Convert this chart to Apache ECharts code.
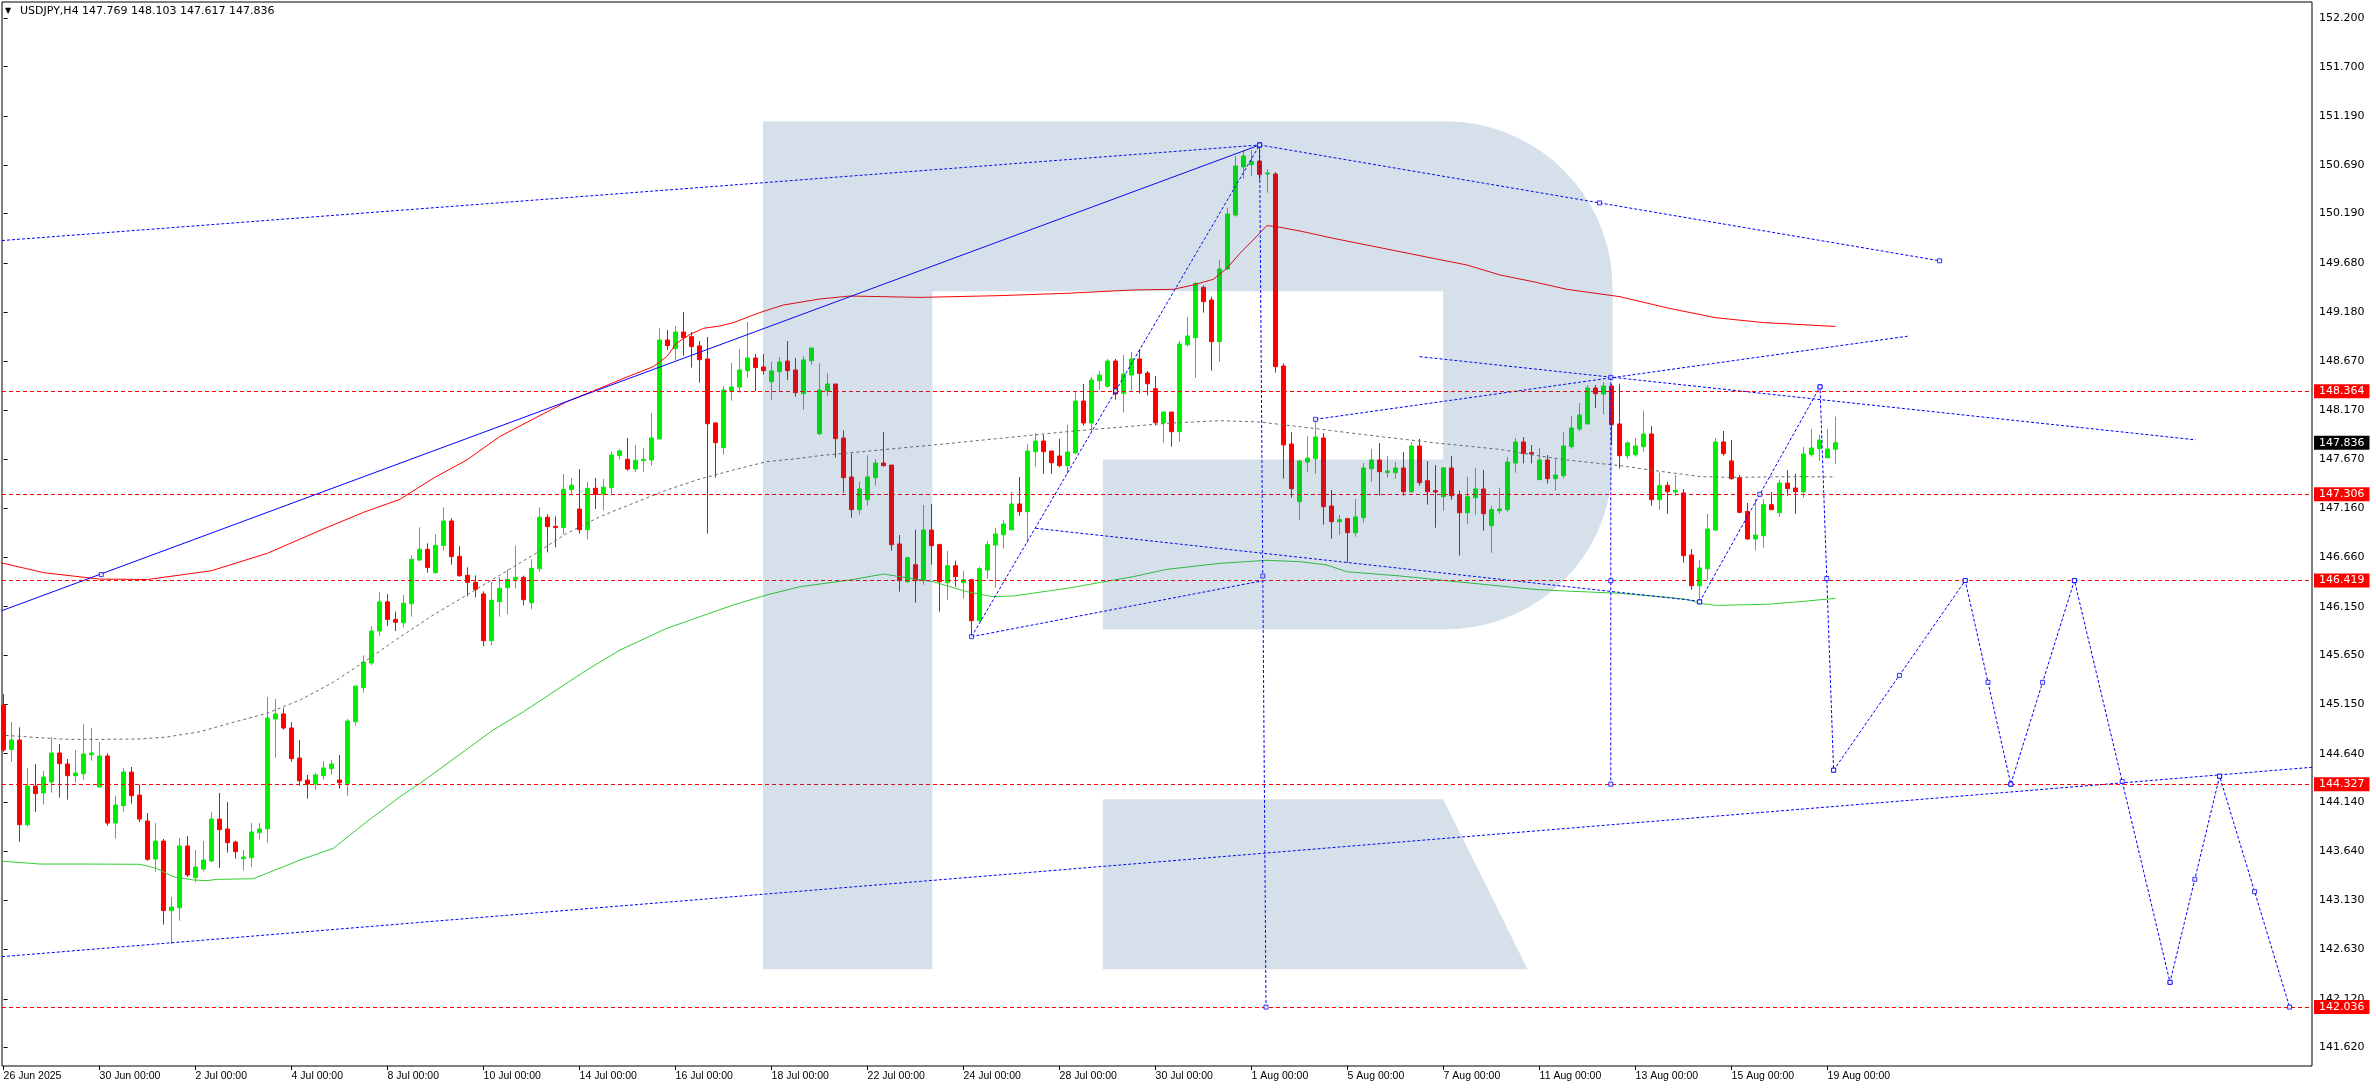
<!DOCTYPE html>
<html><head><meta charset="utf-8">
<script src="https://cdn.jsdelivr.net/npm/echarts@6/dist/echarts.min.js"></script>
<style>html,body{margin:0;padding:0;background:#fff}#c{width:2376px;height:1090px}</style>
</head><body><div id="c"></div>
<script>
const symbolName = 'USDJPY,H4';
const opens = [
145.140,144.684,144.780,143.910,144.308,144.236,144.349,144.647,144.534,144.414,
144.434,144.630,144.297,144.616,143.927,144.106,144.451,144.215,143.948,143.557,
143.742,143.027,143.057,143.691,143.366,143.455,143.537,143.968,143.866,143.732,
143.561,143.571,143.828,143.869,144.996,145.048,144.904,144.595,144.369,144.328,
144.414,144.486,144.369,144.335,144.969,145.318,145.572,145.900,146.200,146.020,
145.986,146.182,146.630,146.740,146.500,146.778,147.031,146.668,146.473,146.401,
146.281,145.801,146.202,146.346,146.432,146.452,146.192,146.541,147.069,146.976,
146.963,147.353,147.154,146.942,147.367,147.305,147.374,147.703,147.665,147.565,
147.651,147.658,147.874,148.891,148.802,148.973,148.925,148.830,148.696,148.038,
147.785,148.367,148.408,148.576,148.706,148.614,148.463,148.566,148.675,148.583,
148.340,148.679,147.928,148.367,148.439,147.884,147.483,147.147,147.250,147.476,
147.627,147.606,146.795,146.407,146.582,146.418,146.938,146.788,146.397,146.572,
146.397,146.428,146.007,146.527,146.784,146.890,146.942,147.206,147.127,147.743,
147.853,147.750,147.699,147.600,147.730,148.264,148.038,148.473,148.415,148.675,
148.343,148.531,148.696,148.552,148.391,148.038,148.151,147.949,148.843,148.915,
149.432,149.302,148.874,149.621,150.175,150.669,150.693,150.730,150.597,150.597,
148.624,147.822,147.230,147.637,147.671,147.884,147.185,147.024,147.055,146.911,
147.065,147.569,147.658,147.528,147.528,147.576,147.332,147.802,147.445,147.343,
147.281,147.576,147.302,147.116,147.271,147.360,146.983,147.137,147.147,147.627,
147.843,147.733,147.456,147.658,147.466,147.497,147.795,147.976,148.028,148.398,
148.336,148.418,148.028,147.702,147.713,147.795,147.925,147.250,147.397,147.329,
147.319,146.682,146.366,146.541,146.938,147.843,147.648,147.476,147.130,146.846,
146.880,147.199,147.117,147.421,147.370,147.332,147.713,147.774,147.682,147.769];
const highs = [
145.253,144.965,144.911,144.493,144.534,144.462,144.808,144.739,144.585,144.678,
144.945,144.904,144.760,144.643,144.208,144.493,144.503,144.321,144.030,143.927,
143.763,143.167,143.773,143.794,143.650,143.742,144.040,144.236,144.143,143.746,
143.650,143.927,143.927,145.222,145.202,145.109,144.965,144.780,144.421,144.441,
144.565,144.575,144.626,144.996,145.335,145.650,145.950,146.300,146.280,146.100,
146.271,146.678,146.966,146.802,146.894,147.172,147.059,146.771,146.555,146.473,
146.308,146.404,146.452,146.534,146.781,146.469,146.637,147.172,147.100,147.079,
147.514,147.473,147.565,147.432,147.473,147.463,147.747,147.771,147.884,147.812,
147.778,148.141,149.014,148.994,149.035,149.179,148.973,148.881,148.922,148.048,
148.418,148.655,148.799,149.076,148.747,148.747,148.665,148.716,148.881,148.706,
148.727,148.809,148.651,148.548,148.439,147.963,147.726,147.432,147.706,147.665,
147.945,147.606,146.887,146.664,146.942,147.195,147.206,146.798,146.723,146.623,
146.520,146.438,146.562,146.825,146.959,147.041,147.329,147.483,147.822,147.935,
147.915,147.750,147.874,148.021,148.367,148.439,148.511,148.572,148.696,148.696,
148.737,148.768,148.798,148.572,148.521,148.151,148.151,148.881,149.127,149.484,
149.453,149.336,149.713,150.247,150.782,150.843,150.843,150.895,150.645,150.617,
148.651,147.945,147.658,147.904,148.079,147.935,147.349,147.093,147.065,147.257,
147.627,147.771,147.832,147.699,147.637,147.740,147.843,147.874,147.647,147.606,
147.586,147.699,147.343,147.486,147.576,147.555,147.188,147.373,147.689,147.884,
147.894,147.812,147.781,147.709,147.668,147.945,148.110,148.243,148.429,148.429,
148.459,148.439,148.442,147.853,147.884,148.165,148.007,147.531,147.432,147.504,
147.360,146.743,146.630,147.106,147.884,147.956,147.863,147.504,147.216,147.257,
147.254,147.329,147.456,147.552,147.517,147.791,147.976,147.915,147.976,148.103];
const lows = [
144.660,144.558,143.736,143.890,144.040,144.116,144.239,144.188,144.167,144.342,
144.373,144.568,144.290,143.900,143.766,144.044,144.126,143.938,143.540,143.427,
142.883,142.684,142.924,143.372,143.318,143.431,143.527,143.465,143.623,143.561,
143.438,143.475,143.756,143.725,144.599,144.887,144.558,144.311,144.177,144.270,
144.373,144.424,144.280,144.208,144.928,145.267,145.550,145.850,145.950,145.900,
145.935,146.048,146.620,146.500,146.490,146.726,146.582,146.459,146.257,146.247,
145.743,145.753,146.048,146.069,146.336,146.164,146.123,146.510,146.709,146.761,
146.894,147.302,146.901,146.843,147.154,147.137,147.305,147.661,147.548,147.535,
147.535,147.600,147.874,148.788,148.686,148.730,148.607,148.453,146.901,147.476,
147.713,148.268,148.350,148.504,148.367,148.535,148.278,148.367,148.480,148.309,
148.175,148.638,147.915,148.319,147.682,147.322,147.065,147.096,147.188,147.394,
147.589,146.726,146.305,146.397,146.192,146.377,146.582,146.099,146.222,146.356,
146.233,145.842,145.996,146.438,146.346,146.747,146.931,147.086,146.808,147.589,
147.517,147.517,147.582,147.517,147.719,148.011,147.945,148.381,148.401,148.278,
148.144,148.370,148.343,148.322,148.011,147.836,147.795,147.846,148.822,148.504,
149.172,148.576,148.668,149.610,150.158,150.549,150.580,150.535,150.405,148.555,
147.466,147.271,147.045,147.538,147.517,146.993,146.849,146.890,146.603,146.870,
147.014,147.435,147.291,147.476,147.466,147.291,147.322,147.394,147.199,146.962,
147.137,147.250,146.675,147.003,147.096,146.931,146.705,147.106,147.127,147.528,
147.623,147.623,147.456,147.415,147.343,147.466,147.774,147.956,148.028,148.192,
148.131,147.812,147.569,147.672,147.692,147.743,147.189,147.147,147.106,147.291,
146.603,146.325,146.229,146.428,146.928,147.702,147.456,147.110,146.839,146.726,
146.757,147.147,147.075,147.291,147.106,147.271,147.692,147.651,147.672,147.617];
const closes = [
144.678,144.780,143.910,144.308,144.229,144.400,144.647,144.537,144.414,144.441,
144.636,144.647,144.616,143.927,144.112,144.451,144.208,143.968,143.554,143.742,
143.027,143.064,143.691,143.393,143.475,143.547,143.968,143.859,143.725,143.633,
143.578,143.835,143.866,145.006,145.048,144.904,144.589,144.362,144.328,144.421,
144.493,144.534,144.342,144.976,145.335,145.582,145.900,146.200,146.020,145.990,
146.185,146.637,146.740,146.552,146.781,147.031,146.665,146.469,146.401,146.329,
145.801,146.216,146.339,146.432,146.452,146.223,146.545,147.069,146.973,146.963,
147.357,147.398,146.942,147.367,147.305,147.377,147.709,147.750,147.565,147.655,
147.665,147.884,148.891,148.833,148.973,148.915,148.823,148.689,148.031,147.836,
148.377,148.408,148.583,148.706,148.607,148.576,148.573,148.665,148.576,148.350,
148.686,148.809,148.377,148.439,147.877,147.476,147.147,147.360,147.483,147.627,
147.600,146.788,146.418,146.654,146.418,146.938,146.777,146.407,146.572,146.459,
146.428,146.007,146.541,146.788,146.897,147.000,147.206,147.127,147.750,147.853,
147.743,147.630,147.600,147.740,148.264,148.038,148.480,148.531,148.675,148.336,
148.542,148.696,148.548,148.442,148.041,148.151,147.949,148.850,148.932,149.473,
149.285,148.874,149.621,150.186,150.679,150.782,150.727,150.593,150.607,148.617,
147.812,147.363,147.647,147.678,147.894,147.178,147.024,147.045,146.911,147.072,
147.576,147.658,147.538,147.545,147.576,147.332,147.802,147.425,147.332,147.329,
147.576,147.291,147.116,147.281,147.360,147.106,147.147,147.154,147.637,147.843,
147.726,147.719,147.658,147.466,147.504,147.802,147.987,148.120,148.398,148.339,
148.418,148.021,147.702,147.833,147.802,147.925,147.250,147.397,147.332,147.346,
146.675,146.366,146.548,146.949,147.843,147.723,147.466,147.120,146.846,146.887,
147.199,147.147,147.421,147.363,147.332,147.719,147.781,147.863,147.771,147.836];

const xTickBars = [0,12,24,36,48,60,72,84,96,108,120,132,144,156,168,180,192,204,216,228];
const xTickLabels = ['26 Jun 2025','30 Jun 00:00','2 Jul 00:00','4 Jul 00:00','8 Jul 00:00','10 Jul 00:00','14 Jul 00:00','16 Jul 00:00','18 Jul 00:00','22 Jul 00:00','24 Jul 00:00','28 Jul 00:00','30 Jul 00:00','1 Aug 00:00','5 Aug 00:00','7 Aug 00:00','11 Aug 00:00','13 Aug 00:00','15 Aug 00:00','19 Aug 00:00'];
const yTickValues = [152.200,151.700,151.190,150.690,150.190,149.680,149.180,148.670,148.170,147.670,147.160,146.660,146.150,145.650,145.150,144.640,144.140,143.640,143.130,142.630,142.120,141.620];
const levelLines = [148.364,147.306,146.419,144.327,142.036];
const lastPrice = 147.836;

// indicator lines [bar, price]
const redMA = [[-0.5,146.605],[5,146.50],[12,146.434],[18,146.43],[26,146.52],[33,146.70],[40,146.95],[45,147.12],[49.55,147.254],[53.7,147.470],[57.9,147.658],[62,147.898],[66.2,148.079],[70.4,148.257],[74.5,148.394],[77,148.480],[81.2,148.617],[82.9,148.720],[84.1,148.857],[85.8,148.949],[87.5,149.011],[89.5,149.035],[91.2,149.069],[94.5,149.172],[97.5,149.251],[102.1,149.313],[105.8,149.343],[114.55,149.329],[124.55,149.347],[132.9,149.371],[141.2,149.405],[146.2,149.412],[148.7,149.456],[151.2,149.514],[152.9,149.627],[154.55,149.782],[156.2,149.919],[157.9,150.066],[159.1,150.056],[162.05,150.011],[166.2,149.936],[170.4,149.867],[174.55,149.799],[178.7,149.730],[182.9,149.662],[187.05,149.559],[191.2,149.490],[195.4,149.412],[202.05,149.336],[208,149.22],[214,149.12],[220,149.07],[229,149.03]];
const grayMA = [[-0.5,144.832],[4.55,144.804],[7.9,144.787],[12.05,144.787],[17.05,144.791],[20.4,144.811],[24.55,144.866],[28.7,144.962],[32.9,145.054],[37.05,145.191],[41.2,145.373],[45.4,145.602],[48.7,145.791],[53.7,146.065],[57.9,146.271],[62.05,146.476],[66.2,146.682],[70.4,146.904],[74.55,147.076],[78.7,147.213],[82.9,147.350],[87.05,147.463],[91.2,147.555],[95.4,147.641],[99.55,147.675],[102.05,147.703],[116.2,147.812],[132.9,147.949],[145.4,148.035],[152.05,148.062],[157.05,148.048],[162.05,148.000],[170.4,147.915],[178.7,147.836],[187.05,147.767],[191.2,147.709],[195.4,147.658],[202.05,147.600],[205.8,147.555],[209.95,147.511],[212.05,147.487],[216.2,147.480],[224.55,147.487],[229,147.483]];
const greenMA = [[-0.5,143.537],[4.55,143.506],[10.4,143.506],[17.05,143.503],[19.1,143.462],[21.2,143.376],[23.7,143.342],[25.4,143.335],[26.6,143.348],[31.2,143.355],[32.9,143.410],[37.05,143.547],[41.2,143.667],[45.4,143.941],[49.55,144.198],[52.05,144.335],[61.2,144.883],[65,145.072],[69.1,145.294],[72.9,145.500],[77.05,145.705],[82.9,145.928],[87.05,146.048],[91.2,146.168],[95.4,146.271],[99.55,146.356],[105.8,146.425],[110,146.486],[112.05,146.459],[116.2,146.407],[120.4,146.305],[123.7,146.253],[126.2,146.260],[132.9,146.339],[141.2,146.459],[145.4,146.534],[152.05,146.596],[157.9,146.627],[162.05,146.613],[165.4,146.579],[167.9,146.510],[174.55,146.466],[182.9,146.397],[191.2,146.329],[195.4,146.311],[202.05,146.288],[207.9,146.247],[210.4,146.226],[212.05,146.185],[214.1,146.164],[220.4,146.175],[224.55,146.202],[228.95,146.236]];

// analysis drawings [bar, price]
const solidTrend = [[-0.2,146.11],[157,150.895]];
const dottedA = [[-0.2,149.913],[157,150.895]];
const dottedB = [[157,150.895],[242,149.705]];
const dottedC = [[-0.2,142.554],[288.55,144.50]];
const dottedD = [[177,148.72],[274,147.865]];
const dottedE = [[164,148.076],[238,148.93]];
const dottedF = [[129,146.956],[211.7,146.21]];
const dottedG = [[121,145.842],[157.5,146.419]];
const dottedH = [[121,145.842],[157,150.895]];
const dottedI = [[157,150.895],[157.8,142.036]];
const dottedJ = [[200.9,148.507],[200.9,144.327]];
const forecastPath = [[212,146.20],[227.05,148.41],[228.75,144.47],[245.2,146.419],[250.9,144.327],[258.85,146.419],[270.8,142.29],[277,144.408],[285.75,142.036]];
const soloMarkers = [[12.2,146.48],[164,148.076],[212,146.20]];

const candleData = opens.map((o, i) => [i, o, closes[i], lows[i], highs[i]]);
const dottedSets = [dottedA, dottedB, dottedC, dottedD, dottedE, dottedF, dottedG, dottedH, dottedI, dottedJ];
const markedSets = [dottedB, dottedH, dottedI, dottedJ];
const markerPts = [];
function addSeg(a, b) {
  markerPts.push(a, b, [(a[0] + b[0]) / 2, (a[1] + b[1]) / 2]);
}
markedSets.forEach(s => addSeg(s[0], s[1]));
for (let k = 0; k + 1 < forecastPath.length; k++) addSeg(forecastPath[k], forecastPath[k + 1]);
soloMarkers.forEach(p => markerPts.push(p));

// watermark logo geometry (decoration, pixels)
function logoPoints() {
  const pts = [];
  const r = 167, xr = 1612.6, yT = 121.3, yB = 629.4;
  pts.push([763, yT]);
  for (let a = -90; a <= 0; a += 5) { const t = a * Math.PI / 180; pts.push([xr - r + r * Math.cos(t), yT + r + r * Math.sin(t)]); }
  for (let a = 0; a <= 90; a += 5) { const t = a * Math.PI / 180; pts.push([xr - r + r * Math.cos(t), yB - r + r * Math.sin(t)]); }
  pts.push([1102.8, yB], [1102.8, 459.5], [1443.2, 459.5], [1443.2, 291.2], [932.3, 291.2], [932.3, 969.2], [763, 969.2]);
  return pts;
}
const logoFill = 'rgba(27,83,144,0.18)';

const lastIdx = opens.length - 1;
const headerText = symbolName + ' ' + [opens[lastIdx], highs[lastIdx], lows[lastIdx], closes[lastIdx]].map(v => v.toFixed(3)).join(' ');

const chart = echarts.init(document.getElementById('c'), null, {renderer: 'canvas'});
const series = [];
series.push({
  type: 'candlestick', data: candleData, encode: {x: 0, y: [1, 2, 3, 4]},
  barWidth: 4, z: 2, silent: true,
  itemStyle: {color: '#00ee00', color0: '#ff0000', borderColor: '#00ee00', borderColor0: '#ff0000', borderWidth: 1},
  markLine: {
    silent: true, symbol: 'none', animation: false, precision: 3,
    lineStyle: {color: '#ff0000', type: [4, 3], width: 1},
    label: {show: true, position: 'end', distance: 2, formatter: p => Number(p.value).toFixed(3), color: '#fff', backgroundColor: '#ff0000', padding: [2, 5, 1, 5], fontFamily: 'DejaVu Sans', fontSize: 11},
    data: levelLines.map(v => ({yAxis: v})).concat([{yAxis: lastPrice, lineStyle: {color: 'rgba(0,0,0,0)', width: 0}, label: {backgroundColor: '#000', color: '#fff'}}])
  }
});
series.push({type: 'line', data: redMA, showSymbol: false, silent: true, z: 3, lineStyle: {color: '#ff0000', width: 1}});
series.push({type: 'line', data: grayMA, showSymbol: false, silent: true, z: 3, lineStyle: {color: '#6a6a6a', width: 1, type: [3, 3]}});
series.push({type: 'line', data: greenMA, showSymbol: false, silent: true, z: 3, lineStyle: {color: '#32cd32', width: 1}});
series.push({type: 'line', data: solidTrend, showSymbol: false, silent: true, z: 4, lineStyle: {color: '#0000ff', width: 1}});
dottedSets.forEach(s => series.push({type: 'line', data: s, showSymbol: false, silent: true, z: 4, lineStyle: {color: '#0000ff', width: 1, type: [3, 2]}}));
series.push({type: 'line', data: forecastPath, showSymbol: false, silent: true, z: 4, lineStyle: {color: '#0000ff', width: 1, type: [3, 2]}});
series.push({type: 'scatter', data: markerPts, symbol: 'rect', symbolSize: 4, silent: true, z: 5, itemStyle: {color: '#ffffff', borderColor: '#0000ff', borderWidth: 1}});

chart.setOption({
  animation: false,
  backgroundColor: '#ffffff',
  title: {text: headerText, left: 20, top: 6, padding: 0, textStyle: {fontFamily: 'DejaVu Sans', fontSize: 11, fontWeight: 'normal', color: '#000'}},
  grid: {left: 2, right: 64, top: 2, bottom: 24, show: true, borderColor: '#000', borderWidth: 1, backgroundColor: 'transparent', containLabel: false, outerBoundsMode: 'none'},
  xAxis: {
    type: 'value', min: -0.2, max: 288.55,
    axisLine: {show: false}, splitLine: {show: false},
    axisTick: {show: true, customValues: xTickBars, length: 4, lineStyle: {color: '#000'}},
    axisLabel: {customValues: xTickBars, formatter: v => { const k = xTickBars.indexOf(Math.round(v)); return k >= 0 ? xTickLabels[k] : ''; }, align: 'left', margin: 5, fontFamily: 'Liberation Sans', fontSize: 10.5, color: '#000'}
  },
  yAxis: {
    type: 'value', position: 'right', min: 141.4304, max: 152.3644, scale: true,
    axisLine: {show: false}, splitLine: {show: false},
    axisTick: {show: true, customValues: yTickValues, length: 4, lineStyle: {color: '#000'}},
    axisLabel: {customValues: yTickValues, formatter: v => v.toFixed(3), margin: 7, fontFamily: 'DejaVu Sans', fontSize: 11, color: '#000'}
  },
  graphic: [
    {type: 'polygon', shape: {points: logoPoints()}, style: {fill: logoFill}, z: 100, silent: true},
    {type: 'polygon', shape: {points: [[1102.8, 799.3], [1443.2, 799.3], [1527.6, 969.2], [1102.8, 969.2]]}, style: {fill: logoFill}, z: 100, silent: true},
    {type: 'text', x: 5, y: 7, style: {text: '\u25BC', fontSize: 8, fill: '#000', fontFamily: 'DejaVu Sans'}, z: 101, silent: true}
  ],
  series: series
});
</script>
</body></html>
